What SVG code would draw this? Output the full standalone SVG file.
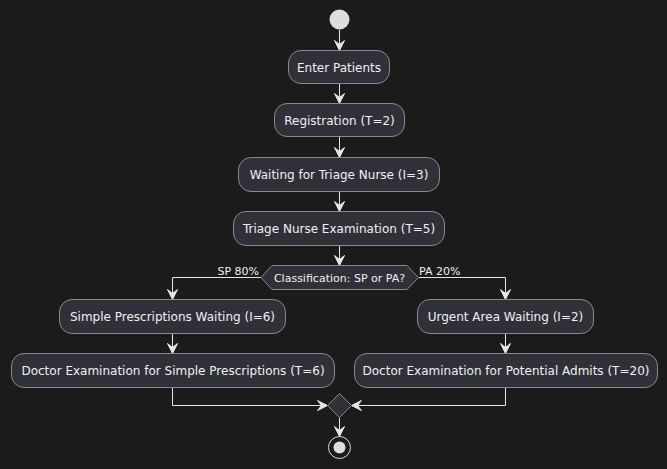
<svg xmlns="http://www.w3.org/2000/svg" width="667" height="469" viewBox="0 0 667 469">
<defs>
<style>
.bg{fill:#1b1b1b}
.act rect{fill:#303038;stroke:#8a8a8a;stroke-width:1}
.act text{font-family:"DejaVu Sans",sans-serif;font-size:12px;fill:#f0f0f0;text-anchor:middle}
.ln{fill:none;stroke:#e6e6e6;stroke-width:1}
.ah{fill:#e6e6e6;stroke:#e6e6e6;stroke-width:1}
.lbl{font-family:"DejaVu Sans",sans-serif;font-size:11px;fill:#f0f0f0}
.dec{fill:#303038;stroke:#8a8a8a;stroke-width:1}
</style>
<polygon id="arrowDown" class="ah" points="-5,-10 0,0 5,-10 0,-6"/>
</defs>
<rect class="bg" x="0" y="0" width="667" height="469"/>

<g id="connectors">
<line class="ln" x1="339.5" y1="30" x2="339.5" y2="50"/>
<use href="#arrowDown" x="339.5" y="50.5"/>
<line class="ln" x1="339.5" y1="83.5" x2="339.5" y2="103"/>
<use href="#arrowDown" x="339.5" y="103.5"/>
<line class="ln" x1="339.5" y1="136.5" x2="339.5" y2="157"/>
<use href="#arrowDown" x="339.5" y="157.5"/>
<line class="ln" x1="339.5" y1="191.5" x2="339.5" y2="211"/>
<use href="#arrowDown" x="339.5" y="211.5"/>
<line class="ln" x1="339.5" y1="245.5" x2="339.5" y2="265"/>
<use href="#arrowDown" x="339.5" y="265.5"/>
<polyline class="ln" points="261,277.5 172.5,277.5 172.5,299"/>
<use href="#arrowDown" x="172.5" y="299.5"/>
<polyline class="ln" points="418.5,277.5 505.5,277.5 505.5,299"/>
<use href="#arrowDown" x="505.5" y="299.5"/>
<line class="ln" x1="172.5" y1="333.5" x2="172.5" y2="353"/>
<use href="#arrowDown" x="172.5" y="353.5"/>
<line class="ln" x1="505.5" y1="333.5" x2="505.5" y2="353"/>
<use href="#arrowDown" x="505.5" y="353.5"/>
<polyline class="ln" points="172.5,387.5 172.5,405.5 327,405.5"/>
<polygon class="ah" points="317.5,400.5 327.5,405.5 317.5,410.5 321.5,405.5"/>
<polyline class="ln" points="505.5,387.5 505.5,405.5 352,405.5"/>
<polygon class="ah" points="361.5,400.5 351.5,405.5 361.5,410.5 357.5,405.5"/>
<line class="ln" x1="339.5" y1="417.5" x2="339.5" y2="436"/>
<use href="#arrowDown" x="339.5" y="436.5"/>
<text class="lbl" x="259" y="274.5" text-anchor="end">SP 80%</text>
<text class="lbl" x="419" y="274.5">PA 20%</text>
</g>

<g id="start"><circle cx="339.5" cy="19.5" r="10" fill="#dddddd"/></g>

<g id="enter" class="act"><rect x="288.5" y="50.5" width="101" height="33" rx="12.5"/><text x="339" y="71.5">Enter Patients</text></g>
<g id="registration" class="act"><rect x="274.5" y="103.5" width="130" height="33" rx="12.5"/><text x="339.5" y="124.5">Registration (T=2)</text></g>
<g id="waitTriage" class="act"><rect x="238.5" y="157.5" width="201" height="34" rx="12.5"/><text x="339" y="179">Waiting for Triage Nurse (I=3)</text></g>
<g id="triageExam" class="act"><rect x="233.5" y="211.5" width="211" height="34" rx="12.5"/><text x="339" y="233">Triage Nurse Examination (T=5)</text></g>

<g id="classification">
<polygon class="dec" points="261,277.5 272,265.5 407,265.5 418.5,277.5 407,289.5 272,289.5"/>
<text class="lbl" x="339.5" y="281.5" text-anchor="middle">Classification: SP or PA?</text>
</g>

<g id="spWait" class="act"><rect x="59.5" y="299.5" width="226" height="34" rx="12.5"/><text x="172.5" y="321">Simple Prescriptions Waiting (I=6)</text></g>
<g id="urgentWait" class="act"><rect x="417.5" y="299.5" width="176" height="34" rx="12.5"/><text x="505.5" y="321">Urgent Area Waiting (I=2)</text></g>
<g id="docSimple" class="act"><rect x="11.5" y="353.5" width="323" height="34" rx="12.5"/><text x="173" y="375">Doctor Examination for Simple Prescriptions (T=6)</text></g>
<g id="docAdmits" class="act"><rect x="354.5" y="353.5" width="303" height="34" rx="12.5"/><text x="506" y="375">Doctor Examination for Potential Admits (T=20)</text></g>

<g id="merge"><polygon class="dec" points="339.5,393.5 351.5,405.5 339.5,417.5 327.5,405.5"/></g>

<g id="end">
<circle cx="339.5" cy="447.5" r="11" fill="none" stroke="#dddddd" stroke-width="1"/>
<circle cx="339.5" cy="447.5" r="6" fill="#dddddd"/>
</g>
</svg>
